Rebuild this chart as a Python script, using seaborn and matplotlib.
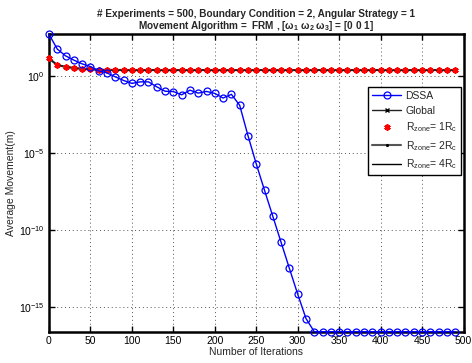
import matplotlib
matplotlib.use("Agg")
import matplotlib.pyplot as plt
import seaborn as sns
import pandas as pd
import numpy as np
from matplotlib.ticker import FixedLocator, NullLocator

sns.set_style("white")
plt.rcParams['font.family'] = ['Liberation Sans', 'DejaVu Sans']
plt.rcParams['mathtext.default'] = 'regular'

iterations = list(range(0, 500, 10))

dssa = [525, 57.5, 20.9, 11.0, 6.3, 4.2, 2.24, 1.62, 0.91, 0.525,
        0.339, 0.427, 0.427, 0.204, 0.105, 0.100, 0.0617, 0.123, 0.0794, 0.102,
        0.0759, 0.038, 0.066, 0.0129, 1.38e-4, 2.0e-6, 3.8e-8, 7.8e-10, 1.58e-11, 3.2e-13,
        6.9e-15, 1.8e-16, 2.5e-17, 2.5e-17, 2.5e-17, 2.5e-17, 2.5e-17, 2.5e-17, 2.5e-17, 2.5e-17,
        2.5e-17, 2.5e-17, 2.5e-17, 2.5e-17, 2.5e-17, 2.5e-17, 2.5e-17, 2.5e-17, 2.5e-17, 2.5e-17]

global_vals = [14.1, 5.25, 3.98, 3.47, 2.95, 2.75, 2.63, 2.57, 2.55, 2.52] + [2.5] * 40
rzone1 = list(global_vals)
rzone2 = list(global_vals)
rzone4 = list(global_vals)

xticks = [0, 50, 100, 150, 200, 250, 300, 350, 400, 450, 500]
yticks = [1e0, 1e-5, 1e-10, 1e-15]
ytick_labels = [r"$10^{0}$", r"$10^{-5}$", r"$10^{-10}$", r"$10^{-15}$"]

df = pd.DataFrame({"it": iterations, "DSSA": dssa, "Global": global_vals,
                   "R1": rzone1, "R2": rzone2, "R4": rzone4})

fig = plt.figure(figsize=(4.72, 3.63), dpi=100)
ax = fig.add_axes([0.1038, 0.0862, 0.8782, 0.8193])

lab1 = r"R$_{zone}$= 1R$_c$"
lab2 = r"R$_{zone}$= 2R$_c$"
lab4 = r"R$_{zone}$= 4R$_c$"

sns.lineplot(data=df, x="it", y="DSSA", ax=ax, color="#0000ff", lw=1.0,
             marker="o", markersize=5, markerfacecolor="none", markeredgecolor="#0000ff",
             markeredgewidth=0.9, label="DSSA", clip_on=False, zorder=5)
sns.lineplot(data=df, x="it", y="Global", ax=ax, color="#222222", lw=1.0,
             marker="x", markersize=3.5, markeredgewidth=1.0, markeredgecolor="black",
             label="Global", clip_on=False, zorder=3)
sns.lineplot(data=df, x="it", y="R1", ax=ax, color="red", lw=0,
             marker=(6, 2, 0), markersize=4.5, markeredgewidth=1.3, markeredgecolor="red",
             label=lab1, clip_on=False, zorder=4)
sns.lineplot(data=df, x="it", y="R2", ax=ax, color="#555555", lw=1.5,
             marker=".", markersize=3, markeredgecolor="black", markerfacecolor="black",
             label=lab2, clip_on=False, zorder=2)
sns.lineplot(data=df, x="it", y="R4", ax=ax, color="black", lw=1.0,
             label=lab4, clip_on=False, zorder=2)

ax.set_yscale("log")
ax.set_xlim(0, 500)
ax.set_ylim(2.5e-17, 525)
ax.xaxis.set_major_locator(FixedLocator(xticks))
ax.set_xticklabels([str(t) for t in xticks])
ax.yaxis.set_major_locator(FixedLocator(yticks))
ax.yaxis.set_minor_locator(NullLocator())
ax.set_yticklabels(ytick_labels)

ax.grid(True, which="major", linestyle=(0, (1, 3)), color="#555555", lw=0.7)
for s in ax.spines.values():
    s.set_linewidth(1.8)
    s.set_color("black")
    s.set_visible(True)
ax.tick_params(direction="in", length=4, width=1, labelsize=7.5, colors="black",
               top=True, right=True, bottom=True, left=True, pad=3)
ax.tick_params(axis="y", which="minor", length=0)

ax.set_xlabel("Number of Iterations", fontsize=7.5, labelpad=1)
ax.set_ylabel("Average Movement(m)", fontsize=7.5, labelpad=2)
ax.set_title("# Experiments = 500, Boundary Condition = 2, Angular Strategy = 1\n"
             r"Movement Algorithm =  FRM , [$\omega_1$ $\omega_2$ $\omega_3$] = [0 0 1]",
             fontsize=7.2, fontweight="bold", pad=4, linespacing=1.0)

leg = ax.legend(loc="upper right", bbox_to_anchor=(0.994, 0.823), borderaxespad=0,
                fontsize=7.5, frameon=True, fancybox=False, edgecolor="black", framealpha=1,
                borderpad=0.4, labelspacing=0.45, handlelength=2.8, handletextpad=0.4)
leg.get_frame().set_linewidth(1.0)

fig.savefig("out.png", dpi=100)
